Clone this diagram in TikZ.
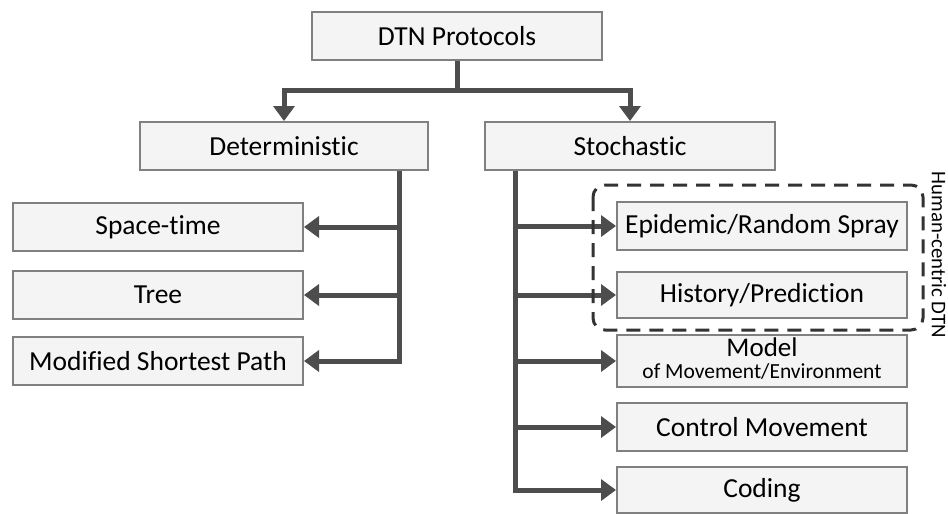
\documentclass[tikz,border=0pt]{standalone}
\usepackage{fontspec}
\setmainfont{Carlito}[Ligatures=NoCommon]
\usetikzlibrary{arrows.meta}
\definecolor{boxfill}{HTML}{F4F4F4}
\definecolor{boxline}{HTML}{808080}
\definecolor{arrcol}{HTML}{4D4D4D}
\begin{document}
\begin{tikzpicture}[x=1pt,y=-1pt,
  pbox/.style={draw=boxline,line width=2pt,fill=boxfill,minimum width=290pt,minimum height=48pt,inner sep=0pt,font=\fontsize{27.5}{30}\selectfont},
  arr/.style={draw=arrcol,line width=5pt,line join=miter,-{Triangle[width=21pt,length=15pt]}},
  plain/.style={draw=arrcol,line width=5pt,line join=miter}]
\useasboundingbox (0,0) rectangle (948,514);
\node[pbox] (dtn) at (457,36) {DTN Protocols};
\node[pbox,minimum width=288pt] (det) at (284,146) {Deterministic};
\node[pbox] (sto) at (630,146) {Stochastic};
\node[pbox] (st) at (158,227) {Space-time};
\node[pbox] (tree) at (158,295) {Tree};
\node[pbox] (msp) at (158,361) {Modified Shortest Path};
\node[pbox] (epi) at (762,226) {Epidemic/Random Spray};
\node[pbox,minimum height=46pt] (his) at (762,295) {History/Prediction};
\node[pbox] (mod) at (762,361) {\begin{tabular}{@{}c@{}}{\fontsize{27}{28}\selectfont Model}\\[-8pt]{\fontsize{21.5}{22}\selectfont of Movement/Environment}\end{tabular}};
\node[pbox] (con) at (762,427) {Control Movement};
\node[pbox,minimum height=46pt] (cod) at (762,490) {Coding};
\coordinate (j) at (457,90);
\coordinate (dx) at (399,0);
\coordinate (sx) at (515,0);
\draw[plain] (dtn.south) -- (j);
\draw[arr] (j) -| (det.north);
\draw[arr] (j) -| (sto.north);
\draw[arr] (det.south -| dx) |- (st.east);
\draw[arr] (det.south -| dx) |- (tree.east);
\draw[arr] (det.south -| dx) |- (msp.east);
\draw[arr] (sto.south -| sx) |- (epi.west);
\draw[arr] (sto.south -| sx) |- (his.west);
\draw[arr] (sto.south -| sx) |- (mod.west);
\draw[arr] (sto.south -| sx) |- (con.west);
\draw[arr] (sto.south -| sx) |- (cod.west);
\draw[draw=black!80,line width=3pt,dash pattern=on 14pt off 9pt,rounded corners=12pt] (593,185) rectangle (923,330);
\node[rotate=-90,font=\fontsize{20.8}{22}\selectfont,inner sep=0pt] (hc) at (939,255) {Human-centric DTN};
\end{tikzpicture}
\end{document}
